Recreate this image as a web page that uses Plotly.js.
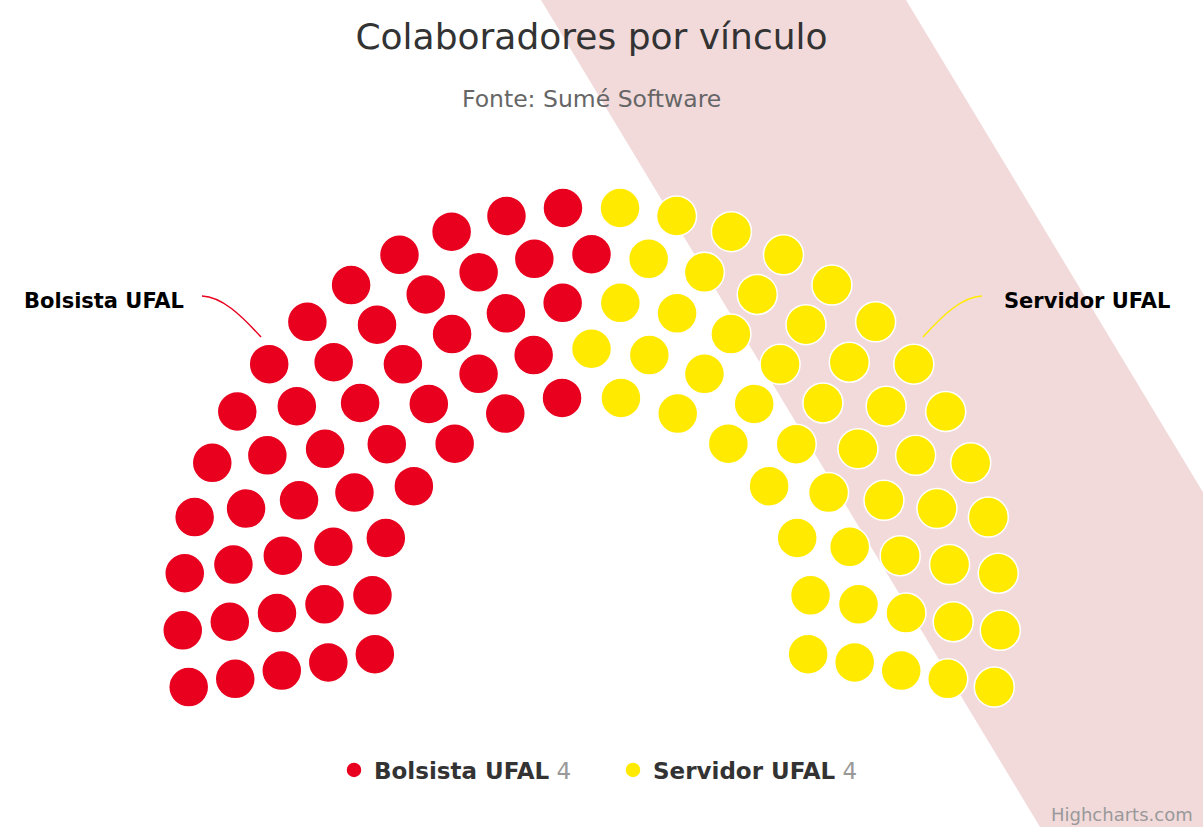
<!DOCTYPE html>
<html>
<head>
<meta charset="utf-8">
<script src="https://cdn.plot.ly/plotly-3.0.1.min.js"></script>
<style>
  html, body { margin: 0; padding: 0; background: #fff; }
  #chart { width: 1203px; height: 827px; }
</style>
</head>
<body>
<div id="chart"></div>
<script>
// series
const seriesNames = ['Bolsista UFAL', 'Servidor UFAL'];
const legendValues = [4, 4];
const itemCounts = [50, 50];
const seriesColors = ['#e8001e', '#ffea00'];

// dots per ring, outer ring first
const ringCounts = [26, 23, 20, 17, 14];

// parliament layout (pixels, plot area = whole page)
const cx = 591.5, cy = 616;
const outerR = 409, ringStep = 47.25;
const startDeg = 190, spanDeg = 200;

// build every seat position, then hand them out by angle like Highcharts does
const seats = [];
ringCounts.forEach(function (n, ring) {
    const r = outerR - ring * ringStep;
    for (let j = 0; j < n; j++) {
        const a = startDeg - j * spanDeg / (n - 1);
        seats.push({ ring: ring, angle: Math.round(a * 1e6) / 1e6, r: r });
    }
});
seats.sort(function (p, q) {
    if (q.angle !== p.angle) return q.angle - p.angle;
    return p.ring - q.ring;
});

const traces = [];
let k = 0;
seriesNames.forEach(function (name, s) {
    const xs = [], ys = [];
    for (let i = 0; i < itemCounts[s]; i++, k++) {
        const p = seats[k];
        const rad = p.angle * Math.PI / 180;
        xs.push(cx + p.r * Math.cos(rad));
        ys.push(cy - p.r * Math.sin(rad));
    }
    traces.push({
        x: xs,
        y: ys,
        type: 'scatter',
        mode: 'markers',
        name: '<b>' + name + '</b> <span style="color:#999999;font-weight:normal">' + legendValues[s] + '</span>',
        marker: { size: 40, color: seriesColors[s], line: { color: '#ffffff', width: 1.5 } },
        hovertemplate: name + '<extra></extra>'
    });
});

const W = 1203, H = 827;

const layout = {
    width: W,
    height: H,
    margin: { l: 0, r: 0, t: 0, b: 0 },
    paper_bgcolor: '#ffffff',
    plot_bgcolor: 'rgba(0,0,0,0)',
    font: { family: 'DejaVu Sans, sans-serif', color: '#333333' },
    title: {
        text: 'Colaboradores por vínculo',
        x: cx / W,
        xanchor: 'center',
        y: 1 - 36 / H,
        yanchor: 'middle',
        font: { family: 'DejaVu Sans, sans-serif', size: 36, color: '#333333' }
    },
    xaxis: { range: [0, W], visible: false, fixedrange: true },
    yaxis: { range: [H, 0], visible: false, fixedrange: true },
    showlegend: true,
    legend: {
        orientation: 'h',
        x: 613 / W,
        xanchor: 'center',
        y: 1 - 770 / H,
        yanchor: 'middle',
        entrywidth: 234,
        entrywidthmode: 'pixels',
        font: { family: 'DejaVu Sans, sans-serif', size: 23, color: '#333333' },
        itemclick: false,
        itemdoubleclick: false
    },
    shapes: [
        {
            type: 'path',
            xref: 'x', yref: 'y',
            path: 'M 541 0 L 906 0 L 1405 827 L 1040 827 Z',
            fillcolor: '#f2dadb',
            line: { width: 0 },
            layer: 'below'
        },
        {
            type: 'path',
            xref: 'x', yref: 'y',
            path: 'M 202 296 C 222 297 240 314 261 337',
            line: { color: seriesColors[0], width: 1.5 }
        },
        {
            type: 'path',
            xref: 'x', yref: 'y',
            path: 'M 982 296 C 962 297 944 314 923 337',
            line: { color: seriesColors[1], width: 1.5 }
        }
    ],
    annotations: [
        {
            text: 'Fonte: Sumé Software',
            xref: 'paper', yref: 'paper',
            x: cx / W, y: 1 - 99 / H,
            xanchor: 'center', yanchor: 'middle',
            showarrow: false,
            font: { family: 'DejaVu Sans, sans-serif', size: 23.5, color: '#666666' }
        },
        {
            text: '<b>' + seriesNames[0] + '</b>',
            xref: 'x', yref: 'y',
            x: 186, y: 301,
            xanchor: 'right', yanchor: 'middle',
            showarrow: false,
            font: { family: 'DejaVu Sans, sans-serif', size: 21, color: '#000000' }
        },
        {
            text: '<b>' + seriesNames[1] + '</b>',
            xref: 'x', yref: 'y',
            x: 1002, y: 301,
            xanchor: 'left', yanchor: 'middle',
            showarrow: false,
            font: { family: 'DejaVu Sans, sans-serif', size: 21, color: '#000000' }
        },
        {
            text: 'Highcharts.com',
            xref: 'paper', yref: 'paper',
            x: 1 - 8 / W, y: 1 - 814 / H,
            xanchor: 'right', yanchor: 'middle',
            showarrow: false,
            font: { family: 'DejaVu Sans, sans-serif', size: 18, color: '#999999' }
        }
    ]
};

Plotly.newPlot('chart', traces, layout, { displayModeBar: false, responsive: false });
</script>
</body>
</html>
